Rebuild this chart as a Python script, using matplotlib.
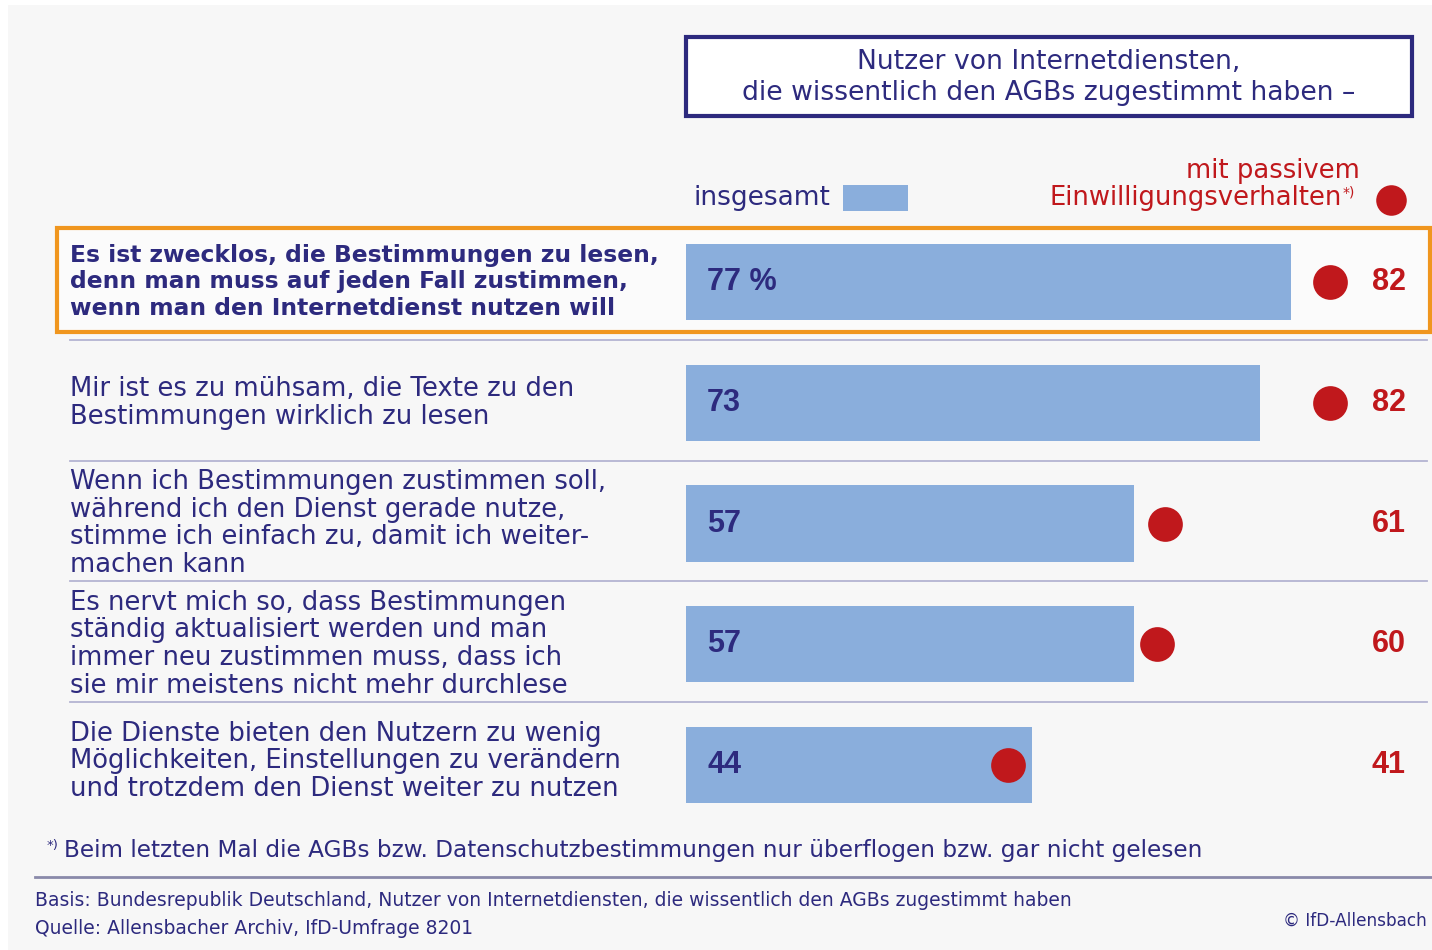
import matplotlib.pyplot as plt
import matplotlib.transforms as mtransforms
from matplotlib.patches import Rectangle

W, H = 1432, 950

NAVY = '#2d2a7e'
RED = '#c0181c'
BLUE = '#8aaedc'
ORANGE = '#f0961e'
PANEL = '#f7f7f7'
SEP = '#b4b4d2'

labels = [
    "Es ist zwecklos, die Bestimmungen zu lesen,\ndenn man muss auf jeden Fall zustimmen,\nwenn man den Internetdienst nutzen will",
    "Mir ist es zu mühsam, die Texte zu den\nBestimmungen wirklich zu lesen",
    "Wenn ich Bestimmungen zustimmen soll,\nwährend ich den Dienst gerade nutze,\nstimme ich einfach zu, damit ich weiter-\nmachen kann",
    "Es nervt mich so, dass Bestimmungen\nständig aktualisiert werden und man\nimmer neu zustimmen muss, dass ich\nsie mir meistens nicht mehr durchlese",
    "Die Dienste bieten den Nutzern zu wenig\nMöglichkeiten, Einstellungen zu verändern\nund trotzdem den Dienst weiter zu nutzen",
]
insgesamt = [77, 73, 57, 57, 44]
passiv = [82, 82, 61, 60, 41]
bar_text = ["77 %", "73", "57", "57", "44"]

FONT = ['DejaVu Sans']
NARROW = ['Liberation Sans Narrow', 'Liberation Sans', 'DejaVu Sans']


def fx(x):
    return x / W


def fy(y):
    return 1 - y / H


fig = plt.figure(figsize=(W / 100, H / 100), dpi=100, facecolor='white')

# light panel behind everything
fig.patches.append(Rectangle((fx(8), 0), 1 - fx(8), fy(5), transform=fig.transFigure,
                             facecolor=PANEL, edgecolor='none', zorder=-5))

# main bar axes: x0 = 686 px, 7.857 px per percent
px_per_unit = (1291 - 686) / 77
row_top, row_bot = 221.6, 825.4
ax = fig.add_axes([fx(686), fy(row_bot), fx(1432 - 686), (row_bot - row_top) / H])
ax.set_xlim(0, (1432 - 686) / px_per_unit)
ax.set_ylim(len(labels) - 0.5, -0.5)
ax.axis('off')
ax.patch.set_visible(False)

rows = list(range(len(labels)))
blend = mtransforms.blended_transform_factory(ax.transAxes, ax.transData)


def ax_frac(x):
    return (x - 686) / (1432 - 686)


# highlight box around first row
ax.add_patch(Rectangle((ax_frac(57), -0.447), ax_frac(1430) - ax_frac(57), 0.861,
                       transform=blend, facecolor='#fbfbfb', edgecolor=ORANGE,
                       linewidth=3, clip_on=False, zorder=1))

ax.barh(rows, insgesamt, height=0.63, color=BLUE, zorder=2)
ax.plot(passiv, rows, 'o', color=RED, markersize=25, markeredgewidth=0, zorder=3)

label_y = [0, 0, 0, 0, -0.03]
for i in rows:
    bold = i == 0
    ax.text(ax_frac(70), i + label_y[i], labels[i], transform=blend, ha='left',
            va='center', fontsize=16.8 if bold else 18.6, color=NAVY, family=FONT,
            fontweight='bold' if bold else 'normal',
            linespacing=1.2 if bold else 1.09)
    ax.text(21 / px_per_unit, i, bar_text[i], ha='left', va='center',
            fontsize=22, color=NAVY, fontweight='bold', family=NARROW, zorder=4)
    ax.text(ax_frac(1389), i, str(passiv[i]), transform=blend, ha='center',
            va='center', fontsize=22, color=RED, fontweight='bold', family=NARROW)
    if i > 0:
        ax.plot([ax_frac(70), ax_frac(1427)], [i - 0.52, i - 0.52], transform=blend,
                color=SEP, linewidth=1.3, clip_on=False, zorder=1)

# header box
fig.patches.append(Rectangle((fx(686), fy(116)), fx(1412 - 686), (116 - 37) / H,
                             transform=fig.transFigure, facecolor='white',
                             edgecolor=NAVY, linewidth=3, zorder=1))
fig.text(fx(1049), fy(77), "Nutzer von Internetdiensten,\ndie wissentlich den AGBs zugestimmt haben –",
         ha='center', va='center', fontsize=19.2, color=NAVY, family=FONT, linespacing=1.25)

# legend
fig.text(fx(694), fy(198), "insgesamt", ha='left', va='center', fontsize=19,
         color=NAVY, family=FONT)
fig.patches.append(Rectangle((fx(843), fy(211)), fx(908 - 843), (211 - 185) / H,
                             transform=fig.transFigure, facecolor=BLUE, edgecolor='none'))
fig.text(fx(1360), fy(171), "mit passivem", ha='right', va='center', fontsize=18.6,
         color=RED, family=FONT)
fig.text(fx(1342), fy(198), "Einwilligungsverhalten", ha='right', va='center',
         fontsize=18.6, color=RED, family=FONT)
fig.text(fx(1343), fy(192), "*)", ha='left', va='center', fontsize=10,
         color=RED, family=FONT)
fig.add_artist(plt.Line2D([fx(1391)], [fy(200)], marker='o', color=RED,
                          markersize=22, markeredgewidth=0, transform=fig.transFigure))

# footnotes
fig.text(fx(47), fy(845), "*)", ha='left', va='center', fontsize=9.5, color=NAVY, family=FONT)
fig.text(fx(64), fy(850), "Beim letzten Mal die AGBs bzw. Datenschutzbestimmungen nur überflogen bzw. gar nicht gelesen",
         ha='left', va='center', fontsize=16.7, color=NAVY, family=FONT)
fig.add_artist(plt.Line2D([fx(35), 1], [fy(877), fy(877)], color='#8a8aaa',
                          linewidth=2, transform=fig.transFigure))
fig.text(fx(35), fy(900), "Basis: Bundesrepublik Deutschland, Nutzer von Internetdiensten, die wissentlich den AGBs zugestimmt haben",
         ha='left', va='center', fontsize=13.5, color=NAVY, family=FONT)
fig.text(fx(35), fy(928), "Quelle: Allensbacher Archiv, IfD-Umfrage 8201",
         ha='left', va='center', fontsize=13.5, color=NAVY, family=FONT)
fig.text(fx(1427), fy(921), "© IfD-Allensbach", ha='right', va='center',
         fontsize=12.2, color=NAVY, family=FONT)

fig.savefig('out.png', dpi=100, facecolor='white')
